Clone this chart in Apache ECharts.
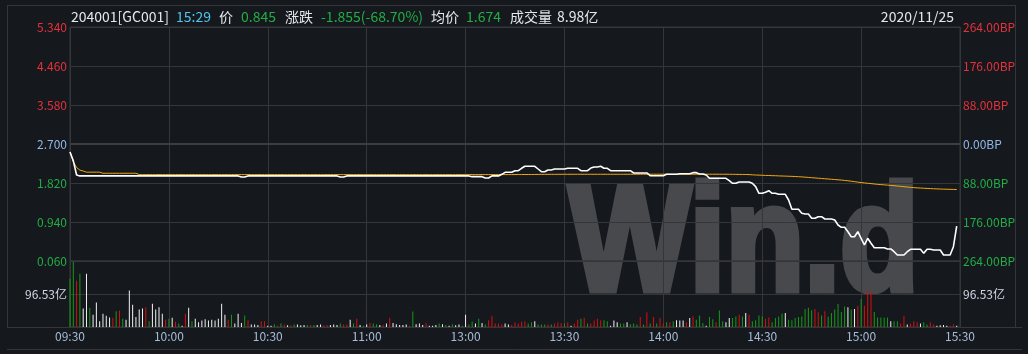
<!DOCTYPE html>
<html>
<head>
<meta charset="utf-8">
<script src="https://cdn.jsdelivr.net/npm/echarts@6/dist/echarts.min.js"></script>
<style>
html,body{margin:0;padding:0;background:#15181d;}
#c{width:1028px;height:354px;}
</style>
</head>
<body>
<div id="c"></div>
<script>
// ---------- data ----------
const timeLabels = ['09:30','10:00','10:30','11:00','13:00','13:30','14:00','14:30','15:00','15:30'];
const preClose = 2.700;
const priceTickStepBP = 88;
const volumeTick = 96.53;
const headerTexts = ['204001[GC001]','15:29','价','0.845','涨跌','-1.855(-68.70%)','均价','1.674','成交量','8.98亿'];
const dateText = '2020/11/25';

// minute price, 09:30 .. 15:29 (270 minutes, lunch break removed)
const price = [
2.52,2.32,2.00,1.98,1.98,1.98,1.98,1.98,1.98,1.98,
1.98,1.98,1.98,1.98,1.98,1.98,1.98,1.98,1.98,1.98,
1.98,1.98,1.98,1.98,1.98,1.98,1.98,1.98,1.98,1.98,
1.98,1.98,1.98,1.98,1.98,1.98,1.98,1.98,1.98,1.98,
1.98,1.98,1.98,1.98,1.98,1.98,1.98,1.98,1.98,1.98,
1.98,1.98,1.955,1.955,1.98,1.98,1.98,1.98,1.98,1.98,
1.98,1.98,1.98,1.98,1.98,1.98,1.98,1.98,1.98,1.98,
1.98,1.98,1.98,1.98,1.98,1.98,1.98,1.98,1.98,1.98,
1.98,1.98,1.955,1.955,1.98,1.98,1.98,1.98,1.98,1.98,
1.98,1.98,1.98,1.98,1.98,1.98,1.98,1.98,1.98,1.98,
1.98,1.98,1.98,1.98,1.98,1.98,1.98,1.98,1.98,1.98,
1.98,1.98,1.98,1.98,1.98,1.98,1.98,1.98,1.98,1.98,
1.98,1.98,1.963,1.963,1.963,1.963,1.933,1.933,1.98,1.98,
1.98,2.016,2.061,2.061,2.061,2.098,2.098,2.152,2.197,2.197,
2.197,2.197,2.136,2.075,2.075,2.113,2.113,2.136,2.136,2.136,
2.136,2.152,2.152,2.152,2.152,2.098,2.098,2.098,2.158,2.181,
2.181,2.197,2.152,2.152,2.098,2.098,2.098,2.098,2.098,2.098,
2.098,2.046,2.046,2.046,2.046,2.046,1.985,1.985,1.985,1.985,
1.985,2.016,2.016,2.016,2.016,2.03,2.03,2.03,2.03,2.053,
2.053,2.023,2.023,2.0,1.926,1.926,1.926,1.926,1.926,1.926,
1.872,1.813,1.813,1.843,1.843,1.843,1.843,1.813,1.737,1.588,
1.588,1.61,1.646,1.588,1.588,1.565,1.565,1.565,1.436,1.227,
1.227,1.227,1.136,1.121,1.121,1.023,1.023,1.06,1.06,1.008,
1.008,1.008,0.985,0.872,0.82,0.82,0.721,0.608,0.608,0.721,
0.572,0.421,0.572,0.46,0.36,0.36,0.36,0.36,0.331,0.331,
0.27,0.195,0.195,0.195,0.27,0.324,0.324,0.324,0.324,0.234,
0.324,0.324,0.308,0.308,0.308,0.195,0.195,0.195,0.383,0.845
];

// minute average price
const avgPrice = [
2.52,2.30,2.17,2.11,2.09,2.065,2.065,2.065,2.065,2.065,
2.04,2.04,2.04,2.04,2.04,2.04,2.04,2.04,2.04,2.04,
2.04,2.01,2.01,2.01,2.01,2.01,2.01,2.01,2.01,2.01,
2.01,2.01,2.01,2.01,2.01,2.01,2.01,2.01,2.01,2.01,
2.01,2.01,2.01,2.01,2.01,2.01,2.01,2.01,2.01,2.01,
2.01,2.01,2.01,2.01,2.01,2.01,2.01,2.01,2.01,2.01,
2.01,2.01,2.01,2.01,2.01,2.01,2.01,2.01,2.01,2.01,
2.01,2.01,2.01,2.01,2.01,2.01,2.01,2.01,2.01,2.01,
2.01,2.01,2.01,2.01,2.01,2.01,2.01,2.01,2.01,2.01,
2.01,2.01,2.01,2.01,2.01,2.01,2.01,2.01,2.01,2.01,
2.01,2.01,2.01,2.01,2.01,2.01,2.01,2.01,2.01,2.01,
2.01,2.01,2.01,2.01,2.01,2.01,2.01,2.01,2.01,2.01,
2.01,2.01,2.01,2.01,2.01,2.01,2.01,2.01,2.01,2.01,
2.01,2.01,2.01,2.01,2.01,2.011,2.011,2.011,2.012,2.012,
2.012,2.013,2.014,2.015,2.015,2.016,2.016,2.016,2.016,2.016,
2.017,2.017,2.017,2.017,2.017,2.017,2.017,2.017,2.017,2.017,
2.017,2.017,2.017,2.017,2.017,2.017,2.017,2.017,2.017,2.017,
2.018,2.018,2.018,2.018,2.018,2.018,2.018,2.018,2.018,2.018,
2.018,2.018,2.018,2.018,2.018,2.018,2.018,2.018,2.018,2.018,
2.018,2.018,2.018,2.018,2.018,2.018,2.018,2.018,2.018,2.018,
2.017,2.016,2.015,2.014,2.013,2.012,2.01,2.005,2.0,1.998,
1.995,1.99,1.99,1.985,1.985,1.98,1.978,1.975,1.972,1.97,
1.966,1.962,1.958,1.952,1.946,1.94,1.934,1.928,1.922,1.916,
1.91,1.904,1.898,1.892,1.886,1.878,1.87,1.86,1.85,1.84,
1.83,1.822,1.814,1.806,1.798,1.79,1.784,1.778,1.772,1.766,
1.76,1.752,1.744,1.736,1.728,1.722,1.716,1.71,1.706,1.702,
1.698,1.694,1.69,1.687,1.684,1.681,1.679,1.677,1.675,1.674
];

// minute volume (亿)
const volume = [
141,191,135,156,54,156,56,36,72,17,
39,33,28,27,46,48,24,21,107,65,
29,51,54,58,17,68,51,58,39,21,
24,27,15,10,4,39,56,17,24,14,
19,23,19,21,19,24,68,36,21,36,
10,39,12,34,20,7,7,6,17,17,
4,4,8,4,10,7,5,5,7,7,
5,6,6,6,6,6,7,5,6,6,
7,6,10,7,7,21,10,24,6,4,
7,12,10,8,6,6,10,27,12,8,
6,6,7,4,45,8,10,6,12,4,
4,6,10,8,6,4,8,5,7,4,
36,7,16,10,24,12,7,20,33,10,
10,8,10,7,6,14,10,15,17,10,
14,17,7,7,7,7,7,10,14,12,
10,14,4,10,21,24,27,10,10,19,
24,20,20,17,4,19,14,10,10,14,
8,10,7,29,7,43,10,29,10,27,
10,14,14,17,20,19,19,14,26,31,
21,34,12,4,29,23,14,48,17,14,
26,26,31,36,31,41,36,17,20,34,
31,24,28,14,26,31,39,41,21,20,
26,29,31,53,56,49,53,43,34,46,
31,41,51,67,44,60,58,51,53,62,
82,62,106,103,44,28,28,28,28,17,
17,17,10,33,7,10,17,14,10,14,
7,14,7,4,5,6,4,4,7,4
];

// tick direction of each minute: 1 up, -1 down, 0 flat
const direction = [
-1,-1,1,-1,0,0,-1,0,0,0,
0,0,0,1,-1,1,-1,0,0,0,
0,0,0,1,-1,0,0,0,0,1,
-1,0,1,-1,0,1,0,-1,0,0,
0,0,0,0,0,0,0,0,1,-1,
0,0,0,-1,1,0,0,0,1,1,
0,0,-1,1,-1,1,0,1,-1,0,
0,0,-1,1,-1,0,0,1,1,0,
0,0,-1,1,1,0,-1,1,0,-1,
0,1,-1,-1,0,1,0,1,0,0,
0,0,0,1,-1,0,0,0,1,0,
0,0,-1,0,-1,0,-1,0,0,-1,
0,-1,-1,0,-1,0,-1,1,1,1,
1,1,0,0,1,1,1,1,1,-1,
-1,0,-1,-1,-1,1,-1,1,1,1,
-1,1,0,1,1,-1,1,-1,1,1,
1,1,-1,-1,0,0,0,-1,-1,0,
-1,-1,-1,1,-1,1,-1,1,-1,1,
1,-1,1,-1,0,0,0,1,0,1,
-1,-1,-1,0,-1,-1,1,-1,-1,0,
0,-1,-1,1,-1,0,1,-1,-1,-1,
-1,1,1,-1,-1,-1,-1,0,-1,-1,
-1,-1,-1,-1,-1,-1,1,1,-1,1,
-1,-1,-1,-1,-1,-1,0,-1,0,1,
-1,1,1,1,-1,-1,-1,-1,-1,0,
-1,-1,1,1,0,1,1,1,0,-1,
-1,1,1,0,0,0,0,1,1,0
];

// ---------- style ----------
const C = {
  bg:'#15181d', grid:'#34363a', zero:'#3c3e43',
  red:'#e5323b', green:'#22ad45', blue:'#8fb8e6',
  time:'#a7bcd6', vol:'#d0d9e6', white:'#e4e7eb', cyan:'#4fc5ee',
  barRed:'#d80f0f', barGreen:'#169a16', barWhite:'#f2f2f2',
  line:'#ffffff', avg:'#f3a80a', wm:'#48494d'
};
const FONT = '"Noto Sans CJK SC","Microsoft YaHei",sans-serif';
const lblColor = v => { v = Number(v); return v > 0.0001 ? C.red : (v < -0.0001 ? C.green : C.blue); };

const chart = echarts.init(document.getElementById('c'), null, {renderer:'canvas'});

const headerX = [71, 176, 219, 241, 285, 321, 431, 466, 510, 557];
const headerCol = [C.white, C.cyan, C.white, C.green, C.white, C.green, C.white, C.green, C.white, C.white];
const graphics = [];
// watermark
graphics.push({type:'text', x:569, y:324, scaleX:0.86, scaleY:1, z:-10, silent:true,
  style:{text:'Win.d', font:'bold 150px "Liberation Sans", Arial, sans-serif', fill:C.wm,
    stroke:C.wm, lineWidth:7, lineJoin:'round', verticalAlign:'bottom', align:'left'}});
headerTexts.forEach((t,i)=>{
  graphics.push({type:'text', x:headerX[i], y:17, z:10, silent:true,
    style:{text:t, font:'14px '+FONT, fill:headerCol[i], verticalAlign:'middle', align:'left'}});
});
graphics.push({type:'text', x:954, y:17, z:10, silent:true,
  style:{text:dateText, font:'14px '+FONT, fill:C.white, verticalAlign:'middle', align:'right'}});
// outer frame lines
const fl = (x1,y1,x2,y2)=>({type:'line', silent:true, z:1, shape:{x1,y1,x2,y2}, style:{stroke:C.grid, lineWidth:1}});
graphics.push(fl(7.5,5,7.5,327.5), fl(7,5.5,1015,5.5), fl(1015.5,5,1015.5,327.5), fl(7,327.5,1022,327.5), fl(7,349.5,1022,349.5));

const xBase = (gi, showLabel) => ({
  gridIndex:gi, type:'value', min:0, max:270, interval:30,
  axisLine:{show:false}, axisTick:{show:false},
  axisLabel:{show:showLabel, showMinLabel:true, showMaxLabel:true, color:C.time, fontSize:12, fontFamily:FONT, margin:3,
    formatter: v => timeLabels[Math.round(v/30)] || ''},
  splitLine:{show:true, lineStyle:{color:C.grid, width:1}}
});

const option = {
  backgroundColor:C.bg,
  animation:false,
  grid:[
    {left:70, right:68, top:27, height:234, show:true, borderColor:C.grid, borderWidth:1},
    {left:70, right:68, top:261, height:66, show:true, borderColor:C.grid, borderWidth:1}
  ],
  xAxis:[xBase(0,false), xBase(1,true)],
  yAxis:[
    {gridIndex:0, type:'value', position:'left', min:-3*priceTickStepBP, max:3*priceTickStepBP, interval:priceTickStepBP,
      axisLine:{show:false}, axisTick:{show:false},
      axisLabel:{color:lblColor, fontSize:12, fontFamily:FONT, margin:3,
        formatter: v => (preClose + v/100).toFixed(3)},
      splitLine:{show:true, lineStyle:{color:C.grid}}},
    {gridIndex:0, type:'value', position:'right', min:-3*priceTickStepBP, max:3*priceTickStepBP, interval:priceTickStepBP,
      axisLine:{show:false}, axisTick:{show:false},
      axisLabel:{color:lblColor, fontSize:12, fontFamily:FONT, margin:3,
        formatter: v => Math.abs(v).toFixed(2)+'BP'},
      splitLine:{show:false}},
    {gridIndex:1, type:'value', position:'left', min:0, max:2*volumeTick, interval:volumeTick,
      axisLine:{show:false}, axisTick:{show:false},
      axisLabel:{color:C.vol, fontSize:12, fontFamily:FONT, margin:3,
        formatter: v => Math.abs(v-volumeTick) < 0.01 ? volumeTick.toFixed(2)+'亿' : ''},
      splitLine:{show:true, lineStyle:{color:C.grid}}},
    {gridIndex:1, type:'value', position:'right', min:0, max:2*volumeTick, interval:volumeTick,
      axisLine:{show:false}, axisTick:{show:false},
      axisLabel:{color:C.vol, fontSize:12, fontFamily:FONT, margin:3,
        formatter: v => Math.abs(v-volumeTick) < 0.01 ? volumeTick.toFixed(2)+'亿' : ''},
      splitLine:{show:false}}
  ],
  graphic: graphics,
  series:[
    {type:'line', name:'均价', xAxisIndex:0, yAxisIndex:0, symbol:'none', z:3,
      data: avgPrice.map((p,i)=>[i, (p-preClose)*100]),
      lineStyle:{color:C.avg, width:1}, itemStyle:{color:C.avg},
      markLine:{silent:true, symbol:'none', label:{show:false},
        lineStyle:{color:C.zero, width:2, type:'solid'}, data:[{yAxis:0}]}},
    {type:'line', name:'价', xAxisIndex:0, yAxisIndex:0, symbol:'none', z:4,
      data: price.map((p,i)=>[i, (p-preClose)*100]),
      lineStyle:{color:C.line, width:1.6}, itemStyle:{color:C.line}},
    {type:'bar', name:'成交量', xAxisIndex:1, yAxisIndex:2, barWidth:1, z:3,
      data: volume.map((v,i)=>[i, v]),
      itemStyle:{color: p => direction[p.dataIndex] > 0 ? C.barRed : (direction[p.dataIndex] < 0 ? C.barGreen : C.barWhite)}}
  ]
};
chart.setOption(option);
</script>
</body>
</html>
